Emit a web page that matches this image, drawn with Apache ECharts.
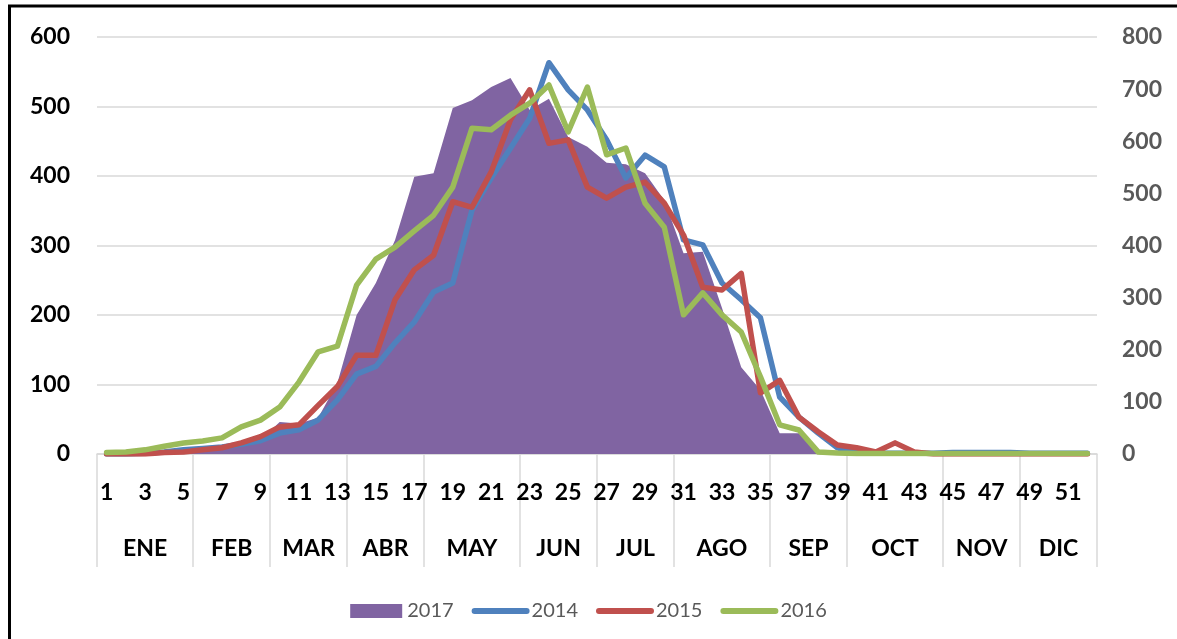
<!DOCTYPE html>
<html>
<head>
<meta charset="utf-8">
<script src="https://cdn.jsdelivr.net/npm/echarts@6/dist/echarts.min.js"></script>
<style>
  html, body { margin: 0; padding: 0; background: #fff; }
  #chart { width: 1177px; height: 639px; }
</style>
</head>
<body>
<div id="chart"></div>
<script>
// semanas epidemiologicas 1..52
var weeks = [];
for (var i = 1; i <= 52; i++) weeks.push(String(i));

var months = ['ENE', 'FEB', 'MAR', 'ABR', 'MAY', 'JUN', 'JUL', 'AGO', 'SEP', 'OCT', 'NOV', 'DIC'];
var weeksPerMonth = [5, 4, 4, 4, 5, 4, 4, 5, 4, 5, 4, 4];

// eje izquierdo
var s2017 = [1, 1, 2, 3, 4, 6, 9, 13, 20, 46, 44, 52, 102, 200, 246, 308, 399, 404, 498, 509,
  528, 541, 495, 511, 456, 442, 419, 417, 404, 365, 289, 291, 210, 125, 92, 30, 30, 3, 0, 0,
  0, 0, 0, 0, 0, 0, 0, 0, 0, 0, 0, 0];
var s2014 = [0, 0, 1, 3, 6, 8, 10, 14, 19, 30, 35, 49, 78, 115, 126, 160, 190, 233, 246, 351,
  397, 440, 483, 563, 524, 495, 452, 397, 430, 413, 308, 301, 246, 222, 196, 82, 53, 30, 9, 2,
  1, 1, 1, 1, 2, 2, 2, 2, 1, 1, 1, 1];
var s2015 = [0, 0, 0, 2, 3, 6, 9, 16, 25, 39, 42, 70, 97, 142, 142, 222, 265, 286, 363, 355,
  406, 481, 524, 447, 452, 384, 368, 384, 391, 361, 315, 240, 236, 260, 88, 106, 53, 32, 13, 9,
  3, 16, 3, 0, 0, 0, 0, 0, 0, 0, 0, 0];
// eje derecho
var s2016 = [3, 4, 8, 15, 21, 25, 31, 52, 65, 90, 138, 196, 207, 324, 374, 397, 428, 458, 512, 625,
  622, 650, 673, 708, 618, 704, 574, 587, 481, 435, 267, 309, 267, 234, 148, 56, 46, 4, 2, 1,
  1, 1, 1, 1, 1, 1, 1, 1, 1, 1, 1, 1];

// eje de meses en medias semanas (0..104): ticks en los limites, nombre en el centro
var halfWeeks = [];
for (var h = 0; h <= 104; h++) halfWeeks.push('');
var monthTicks = {}, monthLabels = {};
var start = 0;
months.forEach(function (m, k) {
  monthTicks[2 * start] = true;
  monthLabels[2 * start + weeksPerMonth[k]] = m;
  halfWeeks[2 * start + weeksPerMonth[k]] = m;
  start += weeksPerMonth[k];
});
monthTicks[2 * start] = true;

var FONT = 'Lato';
var LW = 5.5;
var chart = echarts.init(document.getElementById('chart'));

var lineLegend = function (name) {
  return {
    name: name,
    itemStyle: { opacity: 0 },
    lineStyle: { width: 6, cap: 'round' }
  };
};

var option = {
  animation: false,
  textStyle: { fontFamily: FONT },
  grid: { left: 97, right: 80, top: 37, bottom: 185 },
  legend: {
    left: 'center',
    top: 596,
    itemWidth: 52,
    itemHeight: 14,
    itemGap: 18,
    textStyle: { fontFamily: FONT, fontSize: 20, color: '#595959' },
    data: [
      { name: '2017', icon: 'rect' },
      lineLegend('2014'),
      lineLegend('2015'),
      lineLegend('2016')
    ]
  },
  xAxis: [{
    type: 'category',
    data: weeks,
    boundaryGap: true,
    axisLine: { lineStyle: { color: '#d9d9d9', width: 1.5 } },
    axisTick: { show: false },
    axisLabel: {
      interval: 1,
      margin: 27,
      color: '#000',
      fontFamily: FONT,
      fontWeight: 'bold',
      fontSize: 23
    }
  }, {
    type: 'category',
    position: 'bottom',
    data: halfWeeks,
    boundaryGap: false,
    axisLine: { show: false },
    axisTick: {
      show: true,
      length: 113,
      interval: function (idx) { return !!monthTicks[idx]; },
      lineStyle: { color: '#d9d9d9', width: 1.5 }
    },
    axisLabel: {
      interval: function (idx) { return !!monthLabels[idx]; },
      margin: 83,
      color: '#000',
      fontFamily: FONT,
      fontWeight: 'bold',
      fontSize: 23
    }
  }],
  yAxis: [{
    type: 'value',
    min: 0,
    max: 600,
    interval: 100,
    axisLine: { show: false },
    axisTick: { show: false },
    splitLine: { lineStyle: { color: '#d9d9d9', width: 1.5 } },
    axisLabel: { margin: 27, color: '#000', fontFamily: FONT, fontWeight: 'bold', fontSize: 23 }
  }, {
    type: 'value',
    min: 0,
    max: 800,
    interval: 100,
    axisLine: { show: false },
    axisTick: { show: false },
    splitLine: { show: false },
    axisLabel: { margin: 25, color: '#595959', fontFamily: FONT, fontWeight: 'bold', fontSize: 23 }
  }],
  series: [{
    name: '2017',
    type: 'line',
    data: s2017,
    symbol: 'none',
    color: '#8064A2',
    lineStyle: { width: 0 },
    areaStyle: { color: '#8064A2', opacity: 1 }
  }, {
    name: '2014',
    type: 'line',
    data: s2014,
    symbol: 'none',
    color: '#4F81BD',
    lineStyle: { width: LW, cap: 'round', join: 'round' }
  }, {
    name: '2015',
    type: 'line',
    data: s2015,
    symbol: 'none',
    color: '#C0504D',
    lineStyle: { width: LW, cap: 'round', join: 'round' }
  }, {
    name: '2016',
    type: 'line',
    yAxisIndex: 1,
    data: s2016,
    symbol: 'none',
    color: '#9BBB59',
    lineStyle: { width: LW, cap: 'round', join: 'round' }
  }],
  graphic: [{
    type: 'rect',
    shape: { x: 9.5, y: 6, width: 1200, height: 700 },
    style: { fill: 'none', stroke: '#000', lineWidth: 3 },
    silent: true
  }]
};
chart.setOption(option);
</script>
</body>
</html>
